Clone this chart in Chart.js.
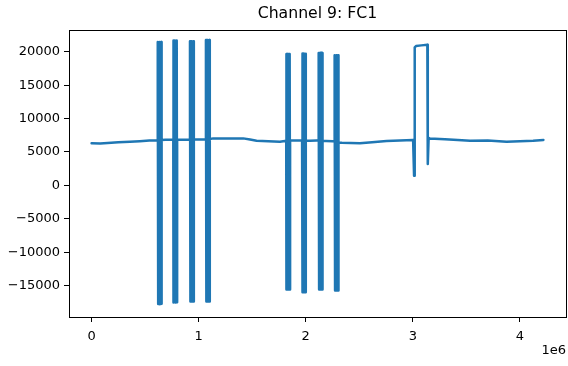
<!DOCTYPE html>
<html>
<head>
<meta charset="utf-8">
<script src="https://cdn.jsdelivr.net/npm/chart.js@4"></script>
<style>
  html, body { margin: 0; padding: 0; background: #fff; }
  canvas { display: block; }
</style>
</head>
<body>
<canvas id="fc1Chart" width="568" height="366"></canvas>
<script>
// sample index (x) and channel value (y)
const sampleIndex = [
    0, 80000, 150000, 250000, 358000, 450000, 540000, 610000,
    618000, 618000, 622000, 626000, 630000, 634000, 638000, 642000, 646000, 650000, 654000, 654000,
    690000, 740000,
    763000, 763000, 767000, 771000, 775000, 779000, 783000, 787000, 791000, 795000, 799000, 799000,
    850000, 900000,
    919000, 919000, 923000, 927000, 931000, 935000, 939000, 943000, 947000, 951000, 955000, 955000,
    1000000, 1050000,
    1068000, 1068000, 1072000, 1076000, 1080000, 1084000, 1088000, 1092000, 1096000, 1100000, 1104000, 1104000,
    1136000, 1250000, 1416000, 1480000, 1541000, 1650000, 1759000, 1805000,
    1818000, 1818000, 1822000, 1826000, 1830000, 1834000, 1838000, 1842000, 1846000, 1850000, 1854000, 1854000,
    1890000, 1940000,
    1966000, 1966000, 1970000, 1974000, 1978000, 1982000, 1986000, 1990000, 1994000, 1998000, 2002000, 2002000,
    2040000, 2100000,
    2121000, 2121000, 2125000, 2129000, 2133000, 2137000, 2141000, 2145000, 2149000, 2153000, 2157000, 2157000,
    2190000, 2250000,
    2270000, 2270000, 2274000, 2278000, 2282000, 2286000, 2290000, 2294000, 2298000, 2302000, 2306000, 2306000,
    2337000, 2420000, 2506000, 2620000, 2755000, 2880000, 3003000,
    3012000, 3018000, 3030000, 3080000, 3136000, 3140000, 3148000,
    3159000, 3300000, 3420000, 3535000, 3700000, 3876000, 4000000, 4124000, 4220000
];
const fc1Values = [
    6300, 6280, 6350, 6450, 6530, 6600, 6700, 6750,
    6780, 21450, -17770, 21420, -17720, 21460, -17770, 21400, -17740, 21450, -17700, 6800,
    6820, 6830,
    6830, 21670, -17520, 21640, -17500, 21670, -17520, 21620, -17480, 21660, -17500, 6830,
    6840, 6830,
    6840, 21570, -17390, 21550, -17380, 21570, -17390, 21540, -17370, 21560, -17390, 6850,
    6850, 6860,
    6870, 21770, -17390, 21740, -17380, 21770, -17390, 21730, -17370, 21760, -17390, 6950,
    7030, 7010, 7030, 6850, 6680, 6600, 6530, 6650,
    6680, 19670, -15600, 19650, -15580, 19670, -15600, 19640, -15580, 19660, -15600, 6700,
    6700, 6700,
    6700, 19720, -15990, 19700, -15960, 19720, -15990, 19690, -15950, 19710, -15980, 6690,
    6690, 6700,
    6700, 19820, -15600, 19800, -15580, 19820, -15600, 19790, -15580, 19810, -15600, 6660,
    6650, 6600,
    6580, 19470, -15750, 19450, -15730, 19470, -15750, 19440, -15720, 19460, -15740, 6420,
    6380, 6330, 6290, 6450, 6630, 6700, 6780,
    1450, 20650, 20850, 20950, 21050, 3200, 7100,
    7030, 6900, 6780, 6680, 6720, 6530, 6600, 6680, 6800
];
const xTicks = [0, 1000000, 2000000, 3000000, 4000000];
const yTicks = [-15000, -10000, -5000, 0, 5000, 10000, 15000, 20000];

const lineColor = "#1f77b4";
const fontFamily = "'DejaVu Sans', sans-serif";

const points = sampleIndex.map((x, i) => ({ x: x, y: fc1Values[i] }));

// axes box plus a title centred over the plot area, as matplotlib does
const frameBox = {
    id: "frameBox",
    afterDraw(chart) {
        const a = chart.chartArea;
        const ctx = chart.ctx;
        ctx.save();
        ctx.strokeStyle = "#000";
        ctx.lineWidth = 1;
        ctx.strokeRect(Math.round(a.left) + 0.5, Math.round(a.top) + 0.5,
            Math.round(a.right - a.left), Math.round(a.bottom - a.top));
        ctx.fillStyle = "#000";
        ctx.font = "15.7px " + fontFamily;
        ctx.textAlign = "center";
        ctx.textBaseline = "middle";
        ctx.fillText("Channel 9: FC1", (a.left + a.right) / 2, 14);
        ctx.restore();
    }
};

new Chart(document.getElementById("fc1Chart").getContext("2d"), {
    type: "scatter",
    data: {
        datasets: [{
            label: "FC1",
            data: points,
            showLine: true,
            borderColor: lineColor,
            backgroundColor: lineColor,
            borderWidth: 2.5,
            borderJoinStyle: "round",
            borderCapStyle: "round",
            pointRadius: 0,
            pointHoverRadius: 0,
            tension: 0
        }]
    },
    options: {
        responsive: false,
        animation: false,
        layout: { padding: { left: 0, right: 2, top: 30, bottom: 0 } },
        plugins: {
            legend: { display: false },
            tooltip: { enabled: false },
            title: { display: false }
        },
        scales: {
            x: {
                type: "linear",
                min: -211000,
                max: 4431000,
                afterBuildTicks: (scale) => { scale.ticks = xTicks.map((v) => ({ value: v })); },
                afterFit: (scale) => { scale.height = 49; },
                ticks: {
                    color: "#000",
                    font: { family: fontFamily, size: 13 },
                    padding: 7,
                    maxRotation: 0,
                    callback: (v) => String(v / 1000000)
                },
                grid: { drawOnChartArea: false, drawTicks: true, tickLength: 5, color: "#000" },
                border: { display: false },
                title: {
                    display: true,
                    text: "1e6",
                    align: "end",
                    color: "#000",
                    font: { family: fontFamily, size: 13 },
                    padding: { top: 0, bottom: 8 }
                }
            },
            y: {
                type: "linear",
                min: -19700,
                max: 23250,
                afterBuildTicks: (scale) => { scale.ticks = yTicks.map((v) => ({ value: v })); },
                afterFit: (scale) => { scale.width = 69; },
                ticks: {
                    color: "#000",
                    font: { family: fontFamily, size: 13 },
                    padding: 4,
                    callback: (v) => (v < 0 ? "\u2212" + Math.abs(v) : String(v))
                },
                grid: { drawOnChartArea: false, drawTicks: true, tickLength: 5, color: "#000" },
                border: { display: false }
            }
        }
    },
    plugins: [frameBox]
});
</script>
</body>
</html>
